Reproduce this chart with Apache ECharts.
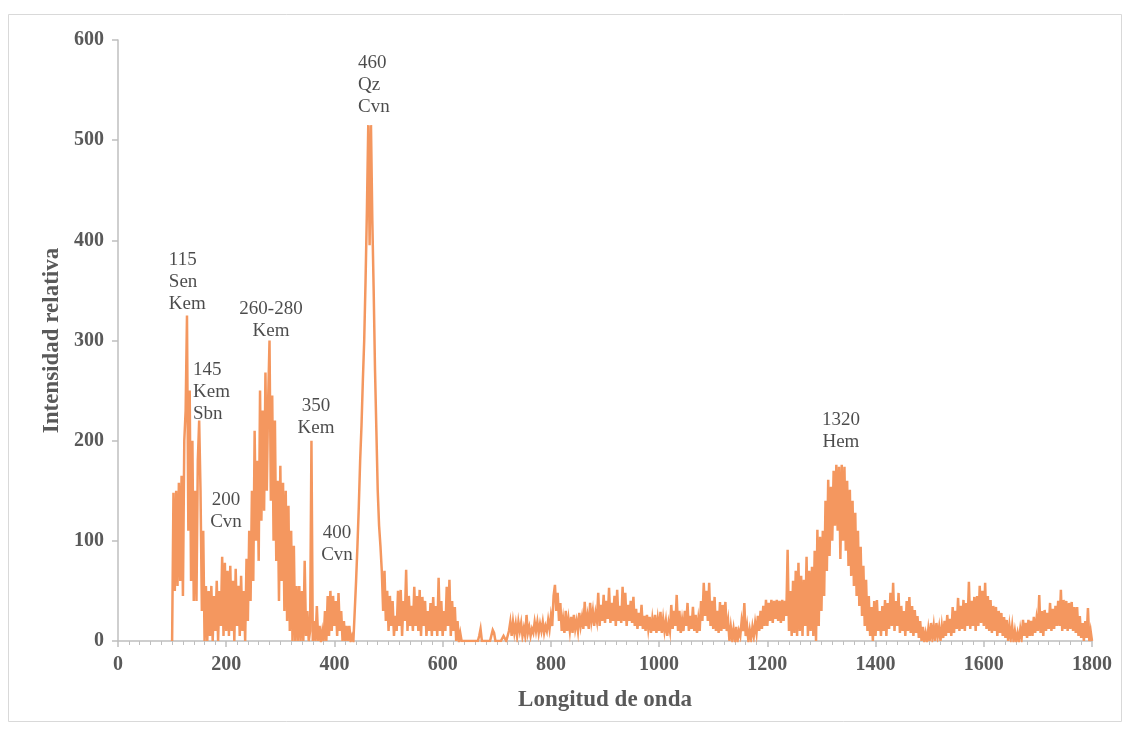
<!DOCTYPE html>
<html><head><meta charset="utf-8">
<script src="https://cdn.jsdelivr.net/npm/echarts@6/dist/echarts.min.js"></script>
<style>html,body{margin:0;padding:0;background:#fff}#c{width:1130px;height:731px}</style>
</head><body><div id="c"></div>
<script>
// wavelength of first sample and sampling step
const xStart = 100;
const xStep = 2.5;
// relative intensity (x = 100, 102.5, ... 1800), one row per 50 units
const intensity = [
  0,148,50,150,55,158,60,165,45,200,230,325,110,250,60,200,40,150,40,180,      // 100
  220,150,30,110,0,55,0,50,5,55,0,45,10,60,0,50,15,84,5,78,                    // 150
  10,70,5,75,10,60,0,72,15,55,5,65,10,50,0,82,20,110,40,150,                   // 200
  60,210,100,180,80,250,120,230,130,268,150,240,300,140,245,100,220,80,160,40, // 250
  175,60,158,30,150,20,135,10,110,0,95,0,55,0,55,0,50,0,80,5,                  // 300
  30,0,10,200,0,20,0,35,0,15,0,10,0,30,0,45,5,50,10,45,                        // 350
  15,40,5,48,10,30,0,20,0,15,0,15,0,5,0,30,60,95,134,180,                      // 400
  215,260,300,360,430,515,395,515,420,350,270,210,150,115,95,70,30,70,20,50,   // 450
  10,45,15,40,5,25,10,50,15,51,5,40,20,71,10,45,15,35,10,54,                   // 500
  15,45,10,51,5,44,15,40,5,30,10,38,5,44,10,35,5,63,10,40,                     // 550
  5,30,10,54,15,61,5,40,10,34,0,20,0,8,0,0,0,0,0,0,                            // 600
  0,0,0,0,0,0,0,5,12,0,0,0,0,0,0,0,0,11,8,0,                                   // 650
  0,0,0,0,0,5,4,0,0,10,19,5,19,8,17,5,19,10,18,5,                              // 700
  13,5,26,8,14,5,12,8,19,10,19,8,17,10,19,8,15,10,21,12,                       // 750
  25,15,45,56,30,48,20,38,10,22,8,30,10,22,10,24,8,26,12,20,                   // 800
  10,28,15,24,12,39,15,25,12,38,20,30,15,28,20,48,15,36,20,46,                 // 850
  18,40,22,53,18,38,20,45,15,51,20,35,18,54,20,48,15,36,20,40,                 // 900
  18,44,15,32,12,28,15,36,12,25,10,26,12,24,8,22,10,26,8,22,                   // 950
  10,29,8,22,10,20,5,18,10,36,12,30,15,46,10,30,8,21,10,30,                    // 1000
  15,38,10,25,12,34,10,26,8,22,10,40,20,58,25,50,20,58,15,40,                  // 1050
  12,44,10,30,8,39,10,36,12,39,10,20,0,14,2,12,0,14,0,10,                      // 1100
  5,20,10,38,5,15,0,11,2,14,5,18,8,25,10,30,12,35,15,41,                       // 1150
  15,38,20,41,18,40,22,41,20,40,18,41,20,40,25,91,10,50,5,60,                  // 1200
  8,70,5,78,10,65,5,61,15,84,5,70,10,74,5,90,0,111,15,104,                     // 1250
  30,110,45,140,70,161,85,154,100,170,115,176,110,174,82,176,100,174,90,160,   // 1300
  75,151,65,140,55,128,45,110,35,94,25,75,15,61,10,45,5,34,0,40,               // 1350
  5,41,10,30,5,35,10,41,5,38,12,48,15,58,10,40,15,48,8,35,                     // 1400
  10,30,5,40,10,44,8,35,5,31,8,25,3,20,0,14,0,8,0,12,                          // 1450
  0,18,3,15,0,18,5,14,0,15,3,20,5,26,8,22,5,34,8,30,                           // 1500
  12,43,10,35,12,41,10,38,15,59,12,40,15,44,10,45,15,55,18,50,                 // 1550
  15,58,12,45,10,41,8,35,10,34,5,30,8,28,5,24,3,21,0,15,                       // 1600
  3,15,0,10,0,8,0,12,3,21,5,18,3,21,5,20,5,24,8,22,                            // 1650
  10,46,8,30,5,31,10,28,12,38,10,32,12,35,15,40,15,51,10,41,                   // 1700
  12,40,10,38,12,39,10,34,8,34,5,25,3,18,0,20,3,33,0,10,                       // 1750
  0                                                                            // 1800
];
// peak annotations: anchor (wavelength, intensity) = top of the text block
const annText  = ['115\nSen\nKem', '145\nKem\nSbn', '260-280\nKem', '200\nCvn', '350\nKem', '400\nCvn', '460\nQz\nCvn', '1320\nHem'];
const annX     = [94, 138.6, 282.8, 199.6, 366, 404.7, 443.5, 1336];
const annY     = [391, 282, 342, 152, 246, 119, 588, 232];
const annAlign = ['left', 'left', 'center', 'center', 'center', 'center', 'left', 'center'];
// axes
const yTicks = [0, 100, 200, 300, 400, 500, 600];
const xTicks = [0, 200, 400, 600, 800, 1000, 1200, 1400, 1600, 1800];

const chart = echarts.init(document.getElementById('c'), null, {renderer: 'canvas'});
const serif = '"Liberation Serif", "Times New Roman", serif';
const lineData = intensity.map((v, i) => [xStart + i * xStep, v]);
const annData = annText.map((t, i) => ({
  value: [annX[i], annY[i]],
  label: {formatter: t, align: annAlign[i]}
}));

chart.setOption({
  animation: false,
  backgroundColor: '#ffffff',
  graphic: [{
    type: 'rect', shape: {x: 8.5, y: 14.5, width: 1113, height: 707},
    style: {fill: 'none', stroke: '#d9d9d9', lineWidth: 1}, silent: true, z: -1
  }],
  grid: {left: 118, right: 38, top: 40, bottom: 90, containLabel: false},
  xAxis: {
    type: 'value', min: xTicks[0], max: xTicks[xTicks.length - 1], interval: 200,
    name: 'Longitud de onda', nameLocation: 'middle', nameGap: 48,
    nameTextStyle: {fontFamily: serif, fontWeight: 'bold', fontSize: 23, color: '#595959'},
    axisLine: {show: true, lineStyle: {color: '#bfbfbf', width: 1.5}},
    axisTick: {show: true, inside: false, length: 6, lineStyle: {color: '#bfbfbf', width: 1.5}},
    minorTick: {show: true, splitNumber: 10, length: 4, lineStyle: {color: '#bfbfbf', width: 1}},
    splitLine: {show: false},
    axisLabel: {fontFamily: serif, fontWeight: 'bold', fontSize: 20, color: '#595959', margin: 14,
                formatter: v => String(v)}
  },
  yAxis: {
    type: 'value', min: yTicks[0], max: yTicks[yTicks.length - 1], interval: 100,
    name: 'Intensidad relativa', nameLocation: 'middle', nameGap: 54, nameRotate: 90,
    nameTextStyle: {fontFamily: serif, fontWeight: 'bold', fontSize: 23, color: '#595959'},
    axisLine: {show: true, lineStyle: {color: '#bfbfbf', width: 1.5}},
    axisTick: {show: true, inside: false, length: 6, lineStyle: {color: '#bfbfbf', width: 1.5}},
    splitLine: {show: false},
    axisLabel: {fontFamily: serif, fontWeight: 'bold', fontSize: 20, color: '#595959', margin: 14,
                formatter: v => String(v)}
  },
  series: [{
    type: 'line', data: lineData, showSymbol: false, symbol: 'none', sampling: null,
    lineStyle: {color: '#F4975F', width: 2.5, join: 'miter'}, itemStyle: {color: '#F4975F'},
    z: 2, silent: true
  }, {
    type: 'scatter', data: annData, symbolSize: 0, silent: true, z: 5,
    label: {
      show: true, position: [0, 0], verticalAlign: 'top',
      fontFamily: serif, fontSize: 19, lineHeight: 22, color: '#1e1e1e'
    }
  }]
});
</script></body></html>
